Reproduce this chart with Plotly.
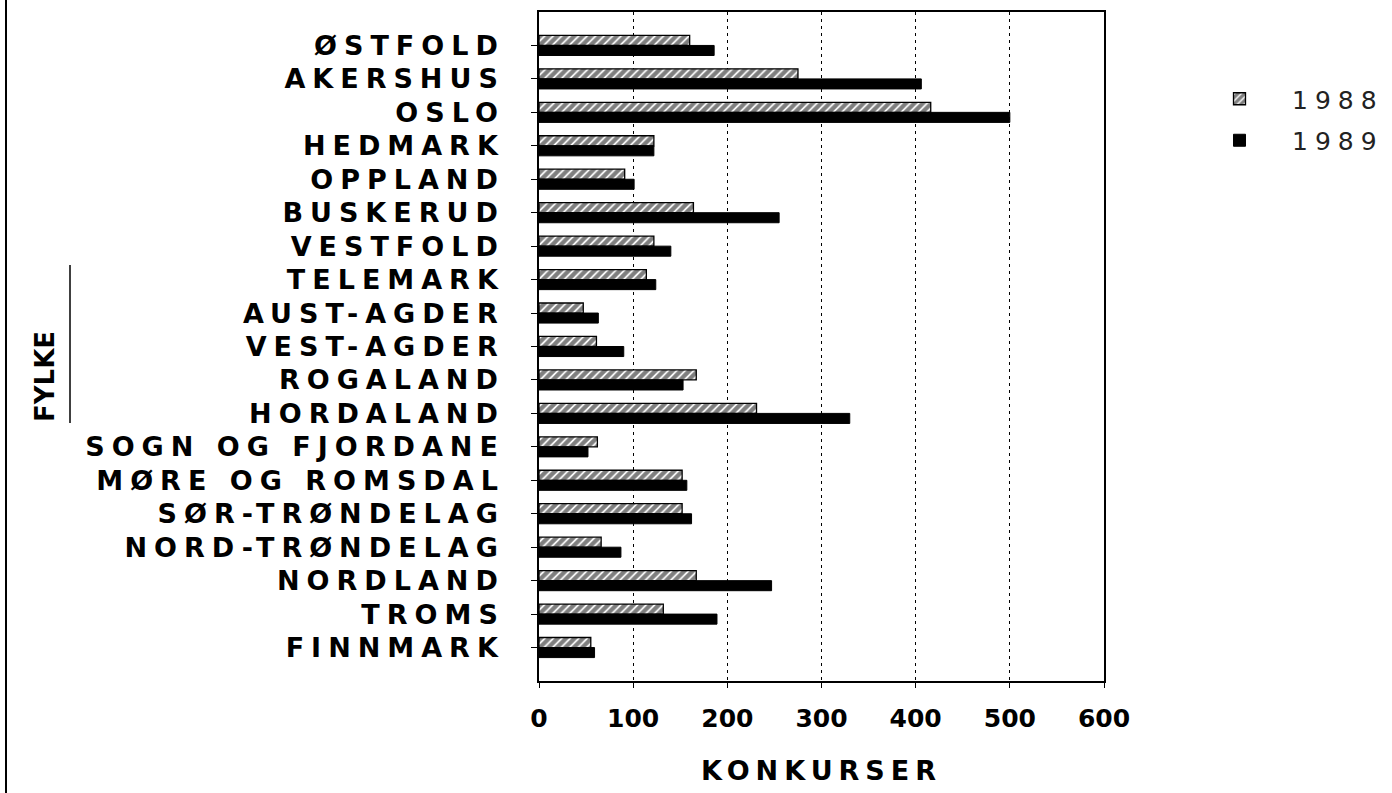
import plotly.graph_objects as go

categories = ["ØSTFOLD", "AKERSHUS", "OSLO", "HEDMARK", "OPPLAND", "BUSKERUD",
              "VESTFOLD", "TELEMARK", "AUST-AGDER", "VEST-AGDER", "ROGALAND",
              "HORDALAND", "SOGN OG FJORDANE", "MØRE OG ROMSDAL", "SØR-TRØNDELAG",
              "NORD-TRØNDELAG", "NORDLAND", "TROMS", "FINNMARK"]
v1988 = [160, 275, 416, 122, 91, 164, 122, 114, 47, 61, 167, 231, 62, 152, 152, 66, 167, 132, 55]
v1989 = [186, 406, 500, 122, 101, 255, 140, 124, 63, 90, 153, 330, 52, 157, 162, 87, 247, 189, 59]
series_names = ["1988", "1989"]
x_ticks = [0, 100, 200, 300, 400, 500, 600]
x_title = "KONKURSER"
y_title = "FYLKE"

BOLD = "DejaVu Sans"

def spaced(t, px):
    return f'<span style="letter-spacing:{px}px">{t}</span>'

fig = go.Figure()
fig.add_trace(go.Bar(
    y=categories, x=v1988, orientation="h", name=spaced(series_names[0], 7),
    legendgroup="a",
    marker=dict(color="white",
                pattern=dict(shape="/", fgcolor="black", bgcolor="white", size=6, solidity=0.7),
                line=dict(color="black", width=1.3)),
))
fig.add_trace(go.Bar(
    y=categories, x=v1989, orientation="h", name=spaced(series_names[1], 7),
    legendgroup="b",
    marker=dict(color="black", line=dict(color="black", width=1)),
))

L, R, T, B = 539, 288, 12, 112
W, H = 1392, 793
pw, ph = W - L - R, H - T - B

def px_x(p):
    return (p - L) / pw

def px_y(p):
    return (H - B - p) / ph

fig.update_layout(
    width=W, height=H,
    margin=dict(l=L, r=R, t=T, b=B, autoexpand=False),
    paper_bgcolor="white", plot_bgcolor="white",
    barmode="group", bargap=0.4, bargroupgap=0,
    showlegend=True,
    legend=dict(x=px_x(1187), y=px_y(76), xanchor="left", yanchor="top",
                font=dict(family="DejaVu Sans", size=25, color="#222"),
                itemwidth=95, tracegroupgap=6, bgcolor="rgba(0,0,0,0)"),
    font=dict(family=BOLD, color="black"),
)
fig.update_xaxes(
    range=[0, 600], tickvals=x_ticks, ticktext=[str(t) for t in x_ticks],
    showgrid=True, gridcolor="black", gridwidth=1, griddash="3px,4px",
    showline=True, linecolor="black", linewidth=1.5, mirror=True,
    ticks="outside", ticklen=5, tickcolor="black", tickwidth=1.2,
    tickfont=dict(family=BOLD, size=25, weight="bold", color="black"),
    ticklabelstandoff=9,
    zeroline=False,
    title=dict(text=spaced(x_title, 6), font=dict(family=BOLD, size=27, weight="bold"), standoff=29),
)
fig.update_yaxes(
    type="category", categoryorder="array", categoryarray=categories,
    tickvals=categories, ticktext=[spaced(c, 7) for c in categories],
    range=[len(categories), -1],
    showgrid=False, showline=True, linecolor="black", linewidth=1.5, mirror=True,
    ticks="outside", ticklen=6, tickcolor="black", tickwidth=1.2,
    tickfont=dict(family=BOLD, size=27, weight="bold", color="black"),
    ticklabelstandoff=21,
)
fig.add_annotation(
    text=y_title, textangle=-90, xref="paper", yref="paper",
    x=px_x(45), y=px_y(377), xanchor="center", yanchor="middle", showarrow=False,
    font=dict(family=BOLD, size=26, weight="bold", color="black"),
)
fig.add_shape(type="line", xref="paper", yref="paper",
              x0=px_x(70), x1=px_x(70), y0=px_y(265), y1=px_y(423),
              line=dict(color="black", width=1.5))
fig.add_shape(type="line", xref="paper", yref="paper",
              x0=px_x(6), x1=px_x(6), y0=px_y(0), y1=px_y(793),
              line=dict(color="black", width=2))

fig.write_html("out.html", config={"displayModeBar": False},
               post_script="document.body.style.margin='0';")
